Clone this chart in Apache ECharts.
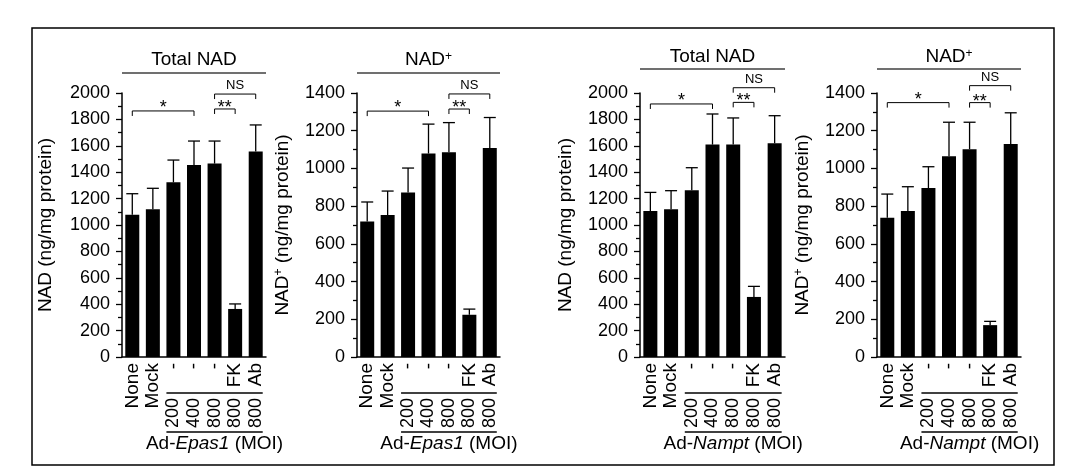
<!DOCTYPE html>
<html><head><meta charset="utf-8">
<script src="https://cdn.jsdelivr.net/npm/echarts@6/dist/echarts.min.js"></script>
<style>html,body{margin:0;padding:0;background:#fff}#c{width:1076px;height:469px}</style>
</head><body><div id="c"></div>
<script>
// ---- data ----
const rowTop = ['None', 'Mock', '-', '-', '-', 'FK', 'Ab'];
const rowMoi = ['', '', '200', '400', '800', '800', '800'];
const totalEpas1 = [1078, 1119, 1323, 1455, 1465, 364, 1556];
const totalEpas1Err = [159, 159, 169, 181, 171, 38, 202];
const nadpEpas1 = [718, 753, 873, 1079, 1086, 224, 1108];
const nadpEpas1Err = [104, 127, 129, 156, 157, 30, 162];
const totalNampt = [1106, 1119, 1263, 1609, 1609, 455, 1619];
const totalNamptErr = [141, 141, 171, 232, 202, 80, 209];
const nadpNampt = [739, 774, 896, 1065, 1102, 169, 1130];
const nadpNamptErr = [125, 129, 113, 180, 143, 20, 165];
// significance brackets: [from index, to index, height value, label]
const sigEpas1Total = [[0, 3, 1864, '*'], [4, 5, 1879, '**'], [4, 6, 1992, 'NS']];
const sigEpas1Nadp = [[0, 3, 1304, '*'], [4, 5, 1315, '**'], [4, 6, 1395, 'NS']];
const sigNamptTotal = [[0, 3, 1917, '*'], [4, 5, 1929, '**'], [4, 6, 2040, 'NS']];
const sigNamptNadp = [[0, 3, 1349, '*'], [4, 5, 1349, '**'], [4, 6, 1439, 'NS']];
const yMaxTotal = 2000, yMaxNadp = 1400, yInterval = 200;

// ---- layout ----
const FONT = 'Liberation Sans, Arial, Helvetica, sans-serif';
const GRID_TOP = 93, GRID_H = 264;
const panels = [
  {vals: totalEpas1, errs: totalEpas1Err, sig: sigEpas1Total, max: yMaxTotal, plus: false, gene: 'Epas1', left: 122, width: 144, titleY: 60, lineY: 73, nameGap: 67},
  {vals: nadpEpas1, errs: nadpEpas1Err, sig: sigEpas1Nadp, max: yMaxNadp, plus: true, gene: 'Epas1', left: 357, width: 143, titleY: 60, lineY: 73, nameGap: 65},
  {vals: totalNampt, errs: totalNamptErr, sig: sigNamptTotal, max: yMaxTotal, plus: false, gene: 'Nampt', left: 640, width: 145, titleY: 57, lineY: 69, nameGap: 65},
  {vals: nadpNampt, errs: nadpNamptErr, sig: sigNamptNadp, max: yMaxNadp, plus: true, gene: 'Nampt', left: 877, width: 144, titleY: 57, lineY: 69, nameGap: 65}
];

const chart = echarts.init(document.getElementById('c'), null, {renderer: 'canvas'});

const richSup = {
  a: {fontSize: 19, fontFamily: FONT, color: '#000'},
  s: {fontSize: 12, fontFamily: FONT, color: '#000', verticalAlign: 'top'}
};

const grid = [], xAxis = [], yAxis = [], series = [];
panels.forEach((p, k) => {
  grid.push({left: p.left, top: GRID_TOP, width: p.width, height: GRID_H, containLabel: false, outerBoundsMode: 'none'});
  xAxis.push({
    type: 'category', gridIndex: k, data: rowTop, boundaryGap: true,
    axisLine: {show: true, lineStyle: {color: '#000', width: 1.5}},
    axisTick: {show: false},
    axisLabel: {rotate: 90, margin: 6, fontSize: 19, color: '#000', fontFamily: FONT, interval: 0,
      formatter: (v, i) => rowTop[i]}
  });
  xAxis.push({
    type: 'category', gridIndex: k, data: rowMoi, position: 'bottom', offset: 35, boundaryGap: true,
    axisLine: {show: false}, axisTick: {show: false},
    axisLabel: {rotate: 90, margin: 6, fontSize: 18, color: '#000', fontFamily: FONT, interval: 0,
      formatter: (v, i) => rowMoi[i]}
  });
  yAxis.push({
    type: 'value', gridIndex: k, min: 0, max: p.max, interval: yInterval,
    name: p.plus ? '{a|NAD}{s|+}{a| (ng/mg protein)}' : 'NAD (ng/mg protein)',
    nameLocation: 'middle', nameGap: p.nameGap, nameRotate: 90,
    nameTextStyle: {fontSize: 19, color: '#000', fontFamily: FONT, rich: richSup},
    axisLine: {show: true, lineStyle: {color: '#000', width: 1.5}},
    axisTick: {show: true, length: 6, lineStyle: {color: '#000', width: 1.3}},
    minorTick: {show: true, splitNumber: 2, length: 4, lineStyle: {color: '#000', width: 1.3}},
    splitLine: {show: false},
    axisLabel: {fontSize: 18, color: '#000', fontFamily: FONT, margin: 12, formatter: v => String(v)}
  });
  series.push({
    type: 'bar', xAxisIndex: 2 * k, yAxisIndex: k, data: p.vals, barWidth: 14,
    itemStyle: {color: '#000'}, silent: true, animation: false
  });
  series.push({
    type: 'custom', xAxisIndex: 2 * k, yAxisIndex: k, clip: false, animation: false, silent: true,
    data: p.vals.map((v, i) => [i, v, p.errs[i]]),
    encode: {x: 0, y: 1},
    renderItem: (params, api) => {
      const i = api.value(0), m = api.value(1), e = api.value(2);
      const p0 = api.coord([i, m]), p1 = api.coord([i, m + e]);
      const st = {stroke: '#000', lineWidth: 1.3};
      return {type: 'group', children: [
        {type: 'line', shape: {x1: p0[0], y1: p0[1], x2: p1[0], y2: p1[1]}, style: st},
        {type: 'line', shape: {x1: p1[0] - 6, y1: p1[1], x2: p1[0] + 6, y2: p1[1]}, style: st}
      ]};
    }
  });
  series.push({
    type: 'custom', xAxisIndex: 2 * k, yAxisIndex: k, clip: false, animation: false, silent: true,
    data: p.sig.map(s => [s[0], s[1], s[2]]),
    encode: {x: [0, 1], y: 2},
    renderItem: (params, api) => {
      const a = api.coord([api.value(0), api.value(2)]);
      const b = api.coord([api.value(1), api.value(2)]);
      const label = p.sig[params.dataIndex][3];
      const isNS = label === 'NS';
      const isStar1 = label === '*';
      return {type: 'group', children: [
        {type: 'polyline', shape: {points: [[a[0], a[1] + 5], [a[0], a[1]], [b[0], b[1]], [b[0], b[1] + 5]]},
          style: {stroke: '#000', lineWidth: 1, fill: null}},
        {type: 'text', style: {
          text: label, x: (a[0] + b[0]) / 2, y: isNS ? a[1] - 2 : a[1] + (isStar1 ? 6 : 8),
          align: 'center', verticalAlign: 'bottom',
          fontSize: isNS ? 13 : 18, fontFamily: FONT, fill: '#000'}}
      ]};
    }
  });
});

chart.setOption({
  animation: false,
  backgroundColor: '#fff',
  textStyle: {fontFamily: FONT},
  grid, xAxis, yAxis, series
});

// decorations positioned from the axes
const graphics = [];
graphics.push({type: 'rect', shape: {x: 32, y: 28, width: 1022, height: 437},
  style: {fill: null, stroke: '#000', lineWidth: 1.5}, silent: true});
panels.forEach((p, k) => {
  const barSeries = 3 * k;
  const cx = p.left + p.width / 2;
  graphics.push({type: 'text', style: {
    text: p.plus ? '{a|NAD}{s|+}' : 'Total NAD', rich: richSup,
    x: cx, y: p.titleY, align: 'center', verticalAlign: 'middle',
    fontSize: 19, fontFamily: FONT, fill: '#000'}});
  graphics.push({type: 'line', shape: {x1: p.left, y1: p.lineY, x2: p.left + p.width, y2: p.lineY},
    style: {stroke: '#404040', lineWidth: 1.6}});
  const c2 = chart.convertToPixel({seriesIndex: barSeries}, [2, 0]);
  const c6 = chart.convertToPixel({seriesIndex: barSeries}, [6, 0]);
  const x1 = c2[0] - 7, x2 = c6[0] + 7;
  const y0 = c2[1];
  graphics.push({type: 'line', shape: {x1, y1: y0 + 36, x2, y2: y0 + 36}, style: {stroke: '#000', lineWidth: 1.3}});
  graphics.push({type: 'line', shape: {x1, y1: y0 + 75, x2, y2: y0 + 75}, style: {stroke: '#000', lineWidth: 1.3}});
  graphics.push({type: 'text', style: {
    text: '{n|Ad-}{i|' + p.gene + '}{n| (MOI)}',
    rich: {n: {fontSize: 19, fontFamily: FONT, color: '#000'}, i: {fontSize: 19, fontFamily: FONT, fontStyle: 'italic', color: '#000'}},
    x: (x1 + x2) / 2, y: y0 + 87, align: 'center', verticalAlign: 'middle'}});
});
chart.setOption({graphic: {elements: graphics}});
</script>
</body></html>
